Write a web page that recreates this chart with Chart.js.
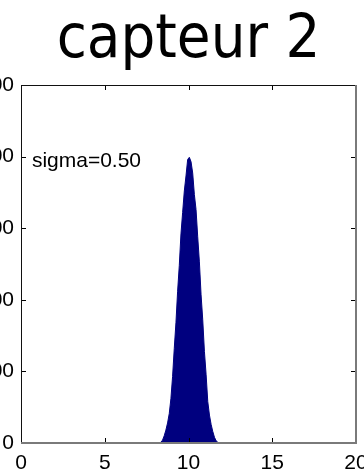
<!DOCTYPE html>
<html>
<head>
<meta charset="utf-8">
<script src="https://cdn.jsdelivr.net/npm/chart.js@4/dist/chart.umd.min.js"></script>
<style>
  html, body { margin: 0; padding: 0; background: #fff; }
  #wrap { width: 364px; height: 472px; }
</style>
</head>
<body>
<div id="wrap"><canvas id="c" width="364" height="472"></canvas></div>
<script>
// ---- data ----
const titleText = 'capteur 2';
const annotText = 'sigma=0.50';
const annotX = 0.65;
const annotY = 400;
const binCenters = [8.25, 8.35, 8.45, 8.55, 8.65, 8.75, 8.85, 8.95, 9.05, 9.15, 9.25, 9.35, 9.45, 9.55, 9.65, 9.75, 9.85, 9.95,
  10.05, 10.15, 10.25, 10.35, 10.45, 10.55, 10.65, 10.75, 10.85, 10.95, 11.05, 11.15, 11.25, 11.35, 11.45, 11.55, 11.65, 11.75, 11.85];
const counts = [0, 1, 4, 10, 18, 28, 41, 62, 93, 132, 168, 212, 248, 292, 322, 352, 373, 396,
  399, 393, 377, 347, 326, 288, 253, 207, 172, 128, 96, 58, 39, 26, 16, 8, 3, 1, 0];
const xTicks = [0, 5, 10, 15, 20];
const yTicks = [0, 100, 200, 300, 400, 500];

const points = binCenters.map((x, i) => ({ x: x, y: counts[i] }));

const framePlugin = {
  id: 'frame',
  afterDraw(chart) {
    const { ctx, chartArea: { left, right, top, bottom }, scales: { x, y } } = chart;
    ctx.save();
    // inward ticks
    ctx.strokeStyle = '#000';
    ctx.lineWidth = 1;
    ctx.beginPath();
    xTicks.forEach(v => {
      const px = Math.round(x.getPixelForValue(v)) + 0.5;
      ctx.moveTo(px, bottom); ctx.lineTo(px, bottom - 5);
      ctx.moveTo(px, top); ctx.lineTo(px, top + 5);
    });
    yTicks.forEach(v => {
      const py = Math.round(y.getPixelForValue(v)) + 0.5;
      ctx.moveTo(left, py); ctx.lineTo(left + 5, py);
      ctx.moveTo(right, py); ctx.lineTo(right - 5, py);
    });
    ctx.stroke();
    // frame: top & left dark, bottom & right grey
    ctx.beginPath();
    ctx.strokeStyle = '#111';
    ctx.lineWidth = 1;
    ctx.moveTo(left + 0.5, bottom); ctx.lineTo(left + 0.5, top + 0.5); ctx.lineTo(right, top + 0.5);
    ctx.stroke();
    ctx.beginPath();
    ctx.strokeStyle = '#7a7a7a';
    ctx.lineWidth = 2;
    ctx.moveTo(left, bottom); ctx.lineTo(right, bottom); ctx.lineTo(right, top);
    ctx.stroke();
    // annotation
    ctx.fillStyle = '#000';
    ctx.font = "21px 'Liberation Sans', Arial, sans-serif";
    ctx.textAlign = 'left';
    ctx.textBaseline = 'alphabetic';
    ctx.fillText(annotText, x.getPixelForValue(annotX), y.getPixelForValue(annotY) + 10);
    ctx.restore();
  }
};

new Chart(document.getElementById('c'), {
  type: 'line',
  data: {
    datasets: [{
      data: points,
      fill: 'origin',
      tension: 0,
      backgroundColor: '#00007f',
      borderColor: '#00007f',
      borderWidth: 1,
      pointRadius: 0
    }]
  },
  options: {
    responsive: false,
    animation: false,
    devicePixelRatio: 1,
    layout: { padding: { left: 0, right: 8, top: 0, bottom: 0 } },
    plugins: {
      legend: { display: false },
      tooltip: { enabled: false },
      title: {
        display: true,
        text: titleText,
        fullSize: false,
        color: '#000',
        font: { family: "'DejaVu Sans Condensed', 'DejaVu Sans', sans-serif", size: 61, weight: 'normal', lineHeight: 1 },
        padding: { top: 11, bottom: 13 }
      }
    },
    scales: {
      x: {
        type: 'linear',
        min: 0, max: 20,
        afterBuildTicks: s => { s.ticks = xTicks.map(v => ({ value: v })); },
        ticks: { color: '#000', font: { family: "'Liberation Sans', Arial, sans-serif", size: 21 }, padding: 8, maxRotation: 0, autoSkip: false },
        grid: { display: false, drawTicks: false },
        border: { display: false },
        afterFit: s => { s.height = 29; s.paddingLeft = 0; s.paddingRight = 0; }
      },
      y: {
        type: 'linear',
        min: 0, max: 500,
        afterBuildTicks: s => { s.ticks = yTicks.map(v => ({ value: v })); },
        ticks: { color: '#000', font: { family: "'Liberation Sans', Arial, sans-serif", size: 21 }, padding: 7 },
        grid: { display: false, drawTicks: false },
        border: { display: false },
        afterFit: s => { s.width = 21; s.paddingTop = 0; s.paddingBottom = 0; }
      }
    }
  },
  plugins: [framePlugin]
});
</script>
</body>
</html>
